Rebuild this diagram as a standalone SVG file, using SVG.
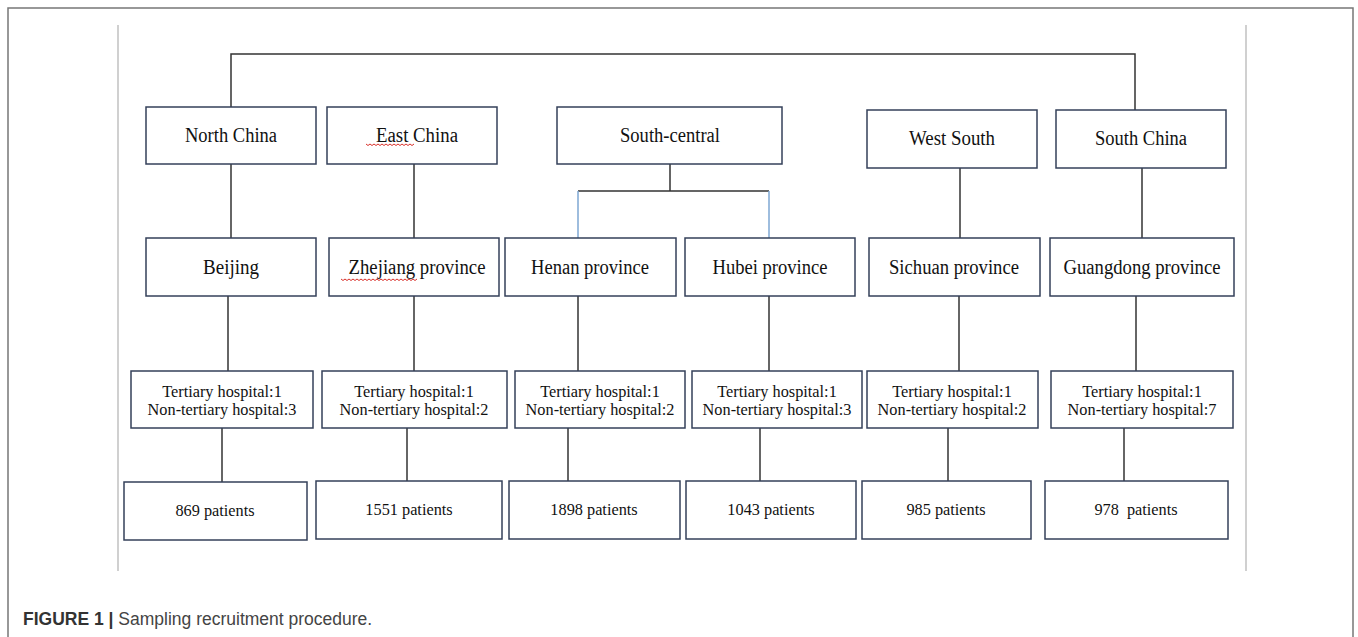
<svg xmlns="http://www.w3.org/2000/svg" width="1358" height="637" viewBox="0 0 1358 637">
<style>
.box{fill:#fff;stroke:#34405a;stroke-width:1.5}
.t{font-family:"Liberation Serif","Times New Roman",serif;fill:#111;text-anchor:middle}
.r{font-size:20px}
.s{font-size:16.3px}
.ln{stroke:#333;stroke-width:1.5;fill:none}
.bl{stroke:#7fa8d4;stroke-width:1.5;fill:none}
.sq{stroke:#d9302a;stroke-width:1;fill:none}
</style>
<rect x="0" y="0" width="1358" height="637" fill="#fff"/>
<path d="M8,645 V8 H1353 V645" fill="none" stroke="#777" stroke-width="1.5"/>
<g id="margins">
<line x1="118" y1="25" x2="118" y2="571" stroke="#d0d0d0" stroke-width="2"/>
<line x1="1246" y1="25" x2="1246" y2="571" stroke="#d0d0d0" stroke-width="2"/>
</g>
<g id="connectors">
<path class="ln" d="M231,107 V54 H1135 V110"/>
<path class="ln" d="M231,164 V238"/>
<path class="ln" d="M228,296 V371"/>
<path class="ln" d="M222,428 V482"/>
<path class="ln" d="M414,164 V238"/>
<path class="ln" d="M414,296 V371"/>
<path class="ln" d="M407,428 V482"/>
<path class="ln" d="M670,164 V191 M578,191 H769"/>
<path class="bl" d="M578,191 V238 M769,191 V238"/>
<path class="ln" d="M578,296 V371"/>
<path class="ln" d="M568,428 V482"/>
<path class="ln" d="M769,296 V371"/>
<path class="ln" d="M760,428 V482"/>
<path class="ln" d="M960,168 V238"/>
<path class="ln" d="M959,296 V371"/>
<path class="ln" d="M948,428 V482"/>
<path class="ln" d="M1142,168 V238"/>
<path class="ln" d="M1136,296 V371"/>
<path class="ln" d="M1124,428 V482"/>
</g>
<g id="north-china"><rect class="box" x="146" y="107" width="170" height="57"/><text class="t r" x="231" y="142" textLength="92" lengthAdjust="spacingAndGlyphs">North China</text></g>
<g id="east-china"><rect class="box" x="327" y="107" width="170" height="57"/><text class="t r" x="417" y="142" textLength="82" lengthAdjust="spacingAndGlyphs">East China</text><path class="sq" d="M366,144 l2,1.5 2,-1.5 2,1.5 2,-1.5 2,1.5 2,-1.5 2,1.5 2,-1.5 2,1.5 2,-1.5 2,1.5 2,-1.5 2,1.5 2,-1.5 2,1.5 2,-1.5 2,1.5 2,-1.5 2,1.5 2,-1.5 2,1.5 2,-1.5 2,1.5 2,-1.5"/></g>
<g id="south-central"><rect class="box" x="557" y="107" width="225" height="57"/><text class="t r" x="670" y="142" textLength="100" lengthAdjust="spacingAndGlyphs">South-central</text></g>
<g id="west-south"><rect class="box" x="867" y="110" width="170" height="58"/><text class="t r" x="952" y="145" textLength="86" lengthAdjust="spacingAndGlyphs">West South</text></g>
<g id="south-china"><rect class="box" x="1056" y="110" width="170" height="58"/><text class="t r" x="1141" y="145" textLength="92" lengthAdjust="spacingAndGlyphs">South China</text></g>

<g id="beijing"><rect class="box" x="146" y="238" width="170" height="58"/><text class="t r" x="231" y="274" textLength="56" lengthAdjust="spacingAndGlyphs">Beijing</text></g>
<g id="zhejiang"><rect class="box" x="329" y="238" width="170" height="58"/><text class="t r" x="417" y="274" textLength="137" lengthAdjust="spacingAndGlyphs">Zhejiang province</text><path class="sq" d="M341,279 l2,1.5 2,-1.5 2,1.5 2,-1.5 2,1.5 2,-1.5 2,1.5 2,-1.5 2,1.5 2,-1.5 2,1.5 2,-1.5 2,1.5 2,-1.5 2,1.5 2,-1.5 2,1.5 2,-1.5 2,1.5 2,-1.5 2,1.5 2,-1.5 2,1.5 2,-1.5 2,1.5 2,-1.5 2,1.5 2,-1.5 2,1.5 2,-1.5 2,1.5 2,-1.5 2,1.5 2,-1.5 2,1.5 2,-1.5 2,1.5 2,-1.5"/></g>
<g id="henan"><rect class="box" x="505" y="238" width="171" height="58"/><text class="t r" x="590" y="274" textLength="118" lengthAdjust="spacingAndGlyphs">Henan province</text></g>
<g id="hubei"><rect class="box" x="685" y="238" width="170" height="58"/><text class="t r" x="770" y="274" textLength="115" lengthAdjust="spacingAndGlyphs">Hubei province</text></g>
<g id="sichuan"><rect class="box" x="869" y="238" width="171" height="58"/><text class="t r" x="954" y="274" textLength="130" lengthAdjust="spacingAndGlyphs">Sichuan province</text></g>
<g id="guangdong"><rect class="box" x="1050" y="238" width="184" height="58"/><text class="t r" x="1142" y="274" textLength="157" lengthAdjust="spacingAndGlyphs">Guangdong province</text></g>

<g id="beijing-hosp"><rect class="box" x="131" y="371" width="182" height="57"/><text class="t s" x="222" y="397">Tertiary hospital:1</text><text class="t s" x="222" y="415">Non-tertiary hospital:3</text></g>
<g id="zhejiang-hosp"><rect class="box" x="322" y="371" width="185" height="57"/><text class="t s" x="414" y="397">Tertiary hospital:1</text><text class="t s" x="414" y="415">Non-tertiary hospital:2</text></g>
<g id="henan-hosp"><rect class="box" x="515" y="371" width="170" height="57"/><text class="t s" x="600" y="397">Tertiary hospital:1</text><text class="t s" x="600" y="415">Non-tertiary hospital:2</text></g>
<g id="hubei-hosp"><rect class="box" x="692" y="371" width="170" height="57"/><text class="t s" x="777" y="397">Tertiary hospital:1</text><text class="t s" x="777" y="415">Non-tertiary hospital:3</text></g>
<g id="sichuan-hosp"><rect class="box" x="867" y="371" width="171" height="57"/><text class="t s" x="952" y="397">Tertiary hospital:1</text><text class="t s" x="952" y="415">Non-tertiary hospital:2</text></g>
<g id="guangdong-hosp"><rect class="box" x="1051" y="371" width="182" height="57"/><text class="t s" x="1142" y="397">Tertiary hospital:1</text><text class="t s" x="1142" y="415">Non-tertiary hospital:7</text></g>

<g id="p869"><rect class="box" x="124" y="482" width="183" height="58"/><text class="t s" x="215" y="516">869 patients</text></g>
<g id="p1551"><rect class="box" x="316" y="481" width="186" height="58"/><text class="t s" x="409" y="515">1551 patients</text></g>
<g id="p1898"><rect class="box" x="509" y="481" width="171" height="58"/><text class="t s" x="594" y="515">1898 patients</text></g>
<g id="p1043"><rect class="box" x="686" y="481" width="170" height="58"/><text class="t s" x="771" y="515">1043 patients</text></g>
<g id="p985"><rect class="box" x="862" y="481" width="169" height="58"/><text class="t s" x="946" y="515">985 patients</text></g>
<g id="p978"><rect class="box" x="1045" y="481" width="183" height="58"/><text class="t s" x="1136" y="515" style="white-space:pre" xml:space="preserve">978  patients</text></g>

<g id="caption"><text x="23" y="625" font-family="'Liberation Sans',Arial,sans-serif" font-size="17.5px" fill="#444"><tspan font-weight="bold" fill="#333">FIGURE 1 |</tspan> Sampling recruitment procedure.</text></g>
</svg>
